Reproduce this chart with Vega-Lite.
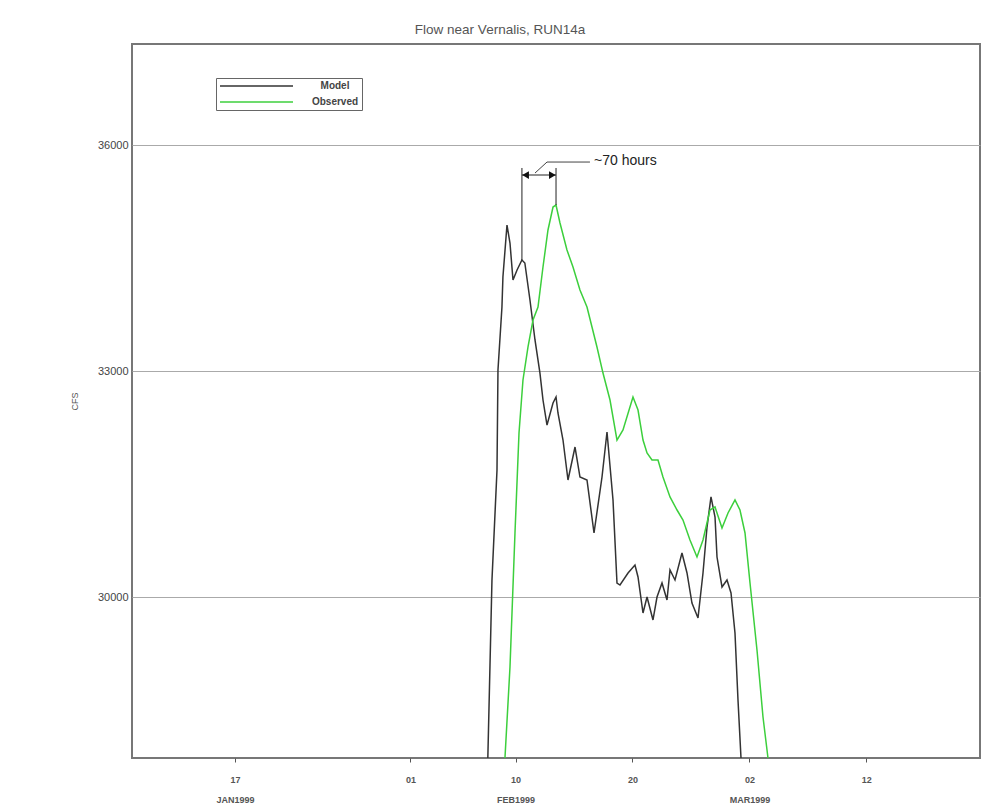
{
  "$schema": "https://vega.github.io/schema/vega-lite/v6.json",
  "width": 848,
  "height": 714,
  "autosize": {"type": "none"},
  "padding": {"left": 132, "top": 44, "right": 22, "bottom": 51},
  "background": "white",
  "title": {
    "text": "Flow near Vernalis, RUN14a",
    "font": "Liberation Sans",
    "fontSize": 13.5,
    "fontWeight": "normal",
    "color": "#555",
    "anchor": "middle",
    "dx": -56,
    "offset": 8
  },
  "config": {
    "view": {"stroke": "#777", "strokeWidth": 2},
    "legend": {
      "orient": "none",
      "legendX": 84,
      "legendY": 34,
      "title": null,
      "strokeColor": "#666",
      "fillColor": "white",
      "padding": 3,
      "cornerRadius": 0,
      "symbolType": "M-1,0H17.25",
      "symbolSize": 64,
      "symbolStrokeWidth": 1.5,
      "labelAlign": "center",
      "labelOffset": 106,
      "labelFont": "Liberation Sans",
      "labelFontSize": 10,
      "labelFontWeight": "bold",
      "labelColor": "#444",
      "rowPadding": 6
    }
  },
  "datasets": {
    "flow": [
      {"t": "1999-02-07T15:00", "series": "Model", "cfs": 27863},
      {"t": "1999-02-07T23:30", "series": "Model", "cfs": 30226},
      {"t": "1999-02-08T09:50", "series": "Model", "cfs": 31686},
      {"t": "1999-02-08T11:50", "series": "Model", "cfs": 33013},
      {"t": "1999-02-08T20:00", "series": "Model", "cfs": 33850},
      {"t": "1999-02-08T22:00", "series": "Model", "cfs": 34248},
      {"t": "1999-02-09T06:20", "series": "Model", "cfs": 34938},
      {"t": "1999-02-09T12:30", "series": "Model", "cfs": 34699},
      {"t": "1999-02-09T18:40", "series": "Model", "cfs": 34208},
      {"t": "1999-02-10T03:00", "series": "Model", "cfs": 34341},
      {"t": "1999-02-10T13:00", "series": "Model", "cfs": 34474},
      {"t": "1999-02-10T19:00", "series": "Model", "cfs": 34434},
      {"t": "1999-02-11T05:30", "series": "Model", "cfs": 33943},
      {"t": "1999-02-11T15:50", "series": "Model", "cfs": 33412},
      {"t": "1999-02-12T02:00", "series": "Model", "cfs": 32973},
      {"t": "1999-02-12T08:15", "series": "Model", "cfs": 32615},
      {"t": "1999-02-12T16:30", "series": "Model", "cfs": 32283},
      {"t": "1999-02-13T04:50", "series": "Model", "cfs": 32575},
      {"t": "1999-02-13T11:00", "series": "Model", "cfs": 32655},
      {"t": "1999-02-13T15:00", "series": "Model", "cfs": 32443},
      {"t": "1999-02-14T01:20", "series": "Model", "cfs": 32084},
      {"t": "1999-02-14T11:35", "series": "Model", "cfs": 31553},
      {"t": "1999-02-15T02:00", "series": "Model", "cfs": 31991},
      {"t": "1999-02-15T12:10", "series": "Model", "cfs": 31593},
      {"t": "1999-02-16T02:35", "series": "Model", "cfs": 31553},
      {"t": "1999-02-16T17:00", "series": "Model", "cfs": 30850},
      {"t": "1999-02-17T09:25", "series": "Model", "cfs": 31593},
      {"t": "1999-02-17T19:40", "series": "Model", "cfs": 32190},
      {"t": "1999-02-18T08:00", "series": "Model", "cfs": 31288},
      {"t": "1999-02-18T16:10", "series": "Model", "cfs": 30186},
      {"t": "1999-02-18T22:20", "series": "Model", "cfs": 30159},
      {"t": "1999-02-19T14:50", "series": "Model", "cfs": 30319},
      {"t": "1999-02-20T05:05", "series": "Model", "cfs": 30425},
      {"t": "1999-02-20T11:20", "series": "Model", "cfs": 30266},
      {"t": "1999-02-20T21:35", "series": "Model", "cfs": 29788},
      {"t": "1999-02-21T05:50", "series": "Model", "cfs": 30000},
      {"t": "1999-02-21T18:05", "series": "Model", "cfs": 29695},
      {"t": "1999-02-22T02:20", "series": "Model", "cfs": 30000},
      {"t": "1999-02-22T12:35", "series": "Model", "cfs": 30186},
      {"t": "1999-02-22T22:50", "series": "Model", "cfs": 29960},
      {"t": "1999-02-23T05:00", "series": "Model", "cfs": 30359},
      {"t": "1999-02-23T15:15", "series": "Model", "cfs": 30226},
      {"t": "1999-02-24T05:35", "series": "Model", "cfs": 30584},
      {"t": "1999-02-24T15:55", "series": "Model", "cfs": 30319},
      {"t": "1999-02-25T02:05", "series": "Model", "cfs": 29920},
      {"t": "1999-02-25T14:30", "series": "Model", "cfs": 29722},
      {"t": "1999-02-26T00:45", "series": "Model", "cfs": 30319},
      {"t": "1999-02-26T09:00", "series": "Model", "cfs": 30929},
      {"t": "1999-02-26T17:10", "series": "Model", "cfs": 31328},
      {"t": "1999-02-27T01:25", "series": "Model", "cfs": 31062},
      {"t": "1999-02-27T05:30", "series": "Model", "cfs": 30531},
      {"t": "1999-02-27T15:45", "series": "Model", "cfs": 30133},
      {"t": "1999-02-28T02:00", "series": "Model", "cfs": 30226},
      {"t": "1999-02-28T10:15", "series": "Model", "cfs": 30053},
      {"t": "1999-02-28T18:25", "series": "Model", "cfs": 29522},
      {"t": "1999-03-01T00:35", "series": "Model", "cfs": 28633},
      {"t": "1999-03-01T06:45", "series": "Model", "cfs": 27863},
      {"t": "1999-02-09T02:10", "series": "Observed", "cfs": 27863},
      {"t": "1999-02-09T12:30", "series": "Observed", "cfs": 29071},
      {"t": "1999-02-09T22:45", "series": "Observed", "cfs": 30850},
      {"t": "1999-02-10T07:00", "series": "Observed", "cfs": 32177},
      {"t": "1999-02-10T15:10", "series": "Observed", "cfs": 32881},
      {"t": "1999-02-11T01:30", "series": "Observed", "cfs": 33319},
      {"t": "1999-02-11T11:45", "series": "Observed", "cfs": 33677},
      {"t": "1999-02-11T22:00", "series": "Observed", "cfs": 33850},
      {"t": "1999-02-12T08:15", "series": "Observed", "cfs": 34381},
      {"t": "1999-02-12T18:30", "series": "Observed", "cfs": 34872},
      {"t": "1999-02-13T04:50", "series": "Observed", "cfs": 35177},
      {"t": "1999-02-13T11:00", "series": "Observed", "cfs": 35204},
      {"t": "1999-02-13T19:10", "series": "Observed", "cfs": 34965},
      {"t": "1999-02-14T09:30", "series": "Observed", "cfs": 34606},
      {"t": "1999-02-14T21:50", "series": "Observed", "cfs": 34381},
      {"t": "1999-02-15T12:10", "series": "Observed", "cfs": 34075},
      {"t": "1999-02-16T02:35", "series": "Observed", "cfs": 33850},
      {"t": "1999-02-16T12:50", "series": "Observed", "cfs": 33584},
      {"t": "1999-02-16T23:05", "series": "Observed", "cfs": 33319},
      {"t": "1999-02-17T11:25", "series": "Observed", "cfs": 32973},
      {"t": "1999-02-18T01:50", "series": "Observed", "cfs": 32615},
      {"t": "1999-02-18T16:10", "series": "Observed", "cfs": 32084},
      {"t": "1999-02-19T04:30", "series": "Observed", "cfs": 32217},
      {"t": "1999-02-20T01:00", "series": "Observed", "cfs": 32655},
      {"t": "1999-02-20T11:20", "series": "Observed", "cfs": 32482},
      {"t": "1999-02-20T21:35", "series": "Observed", "cfs": 32084},
      {"t": "1999-02-21T05:50", "series": "Observed", "cfs": 31912},
      {"t": "1999-02-21T16:00", "series": "Observed", "cfs": 31819},
      {"t": "1999-02-22T04:20", "series": "Observed", "cfs": 31819},
      {"t": "1999-02-22T14:35", "series": "Observed", "cfs": 31593},
      {"t": "1999-02-23T05:00", "series": "Observed", "cfs": 31328},
      {"t": "1999-02-23T19:25", "series": "Observed", "cfs": 31155},
      {"t": "1999-02-24T07:40", "series": "Observed", "cfs": 31022},
      {"t": "1999-02-24T22:00", "series": "Observed", "cfs": 30757},
      {"t": "1999-02-25T12:25", "series": "Observed", "cfs": 30531},
      {"t": "1999-02-26T00:45", "series": "Observed", "cfs": 30757},
      {"t": "1999-02-26T15:05", "series": "Observed", "cfs": 31155},
      {"t": "1999-02-27T01:25", "series": "Observed", "cfs": 31195},
      {"t": "1999-02-27T15:45", "series": "Observed", "cfs": 30916},
      {"t": "1999-02-28T04:05", "series": "Observed", "cfs": 31115},
      {"t": "1999-02-28T18:25", "series": "Observed", "cfs": 31288},
      {"t": "1999-03-01T04:40", "series": "Observed", "cfs": 31155},
      {"t": "1999-03-01T15:00", "series": "Observed", "cfs": 30850},
      {"t": "1999-03-02T01:15", "series": "Observed", "cfs": 30186},
      {"t": "1999-03-02T15:35", "series": "Observed", "cfs": 29297},
      {"t": "1999-03-03T03:55", "series": "Observed", "cfs": 28407},
      {"t": "1999-03-03T14:10", "series": "Observed", "cfs": 27863}
    ],
    "marks_v": [
      {"t": "1999-02-10T13:00", "cfs": 34474, "cfs2": 35695},
      {"t": "1999-02-13T11:00", "cfs": 35204, "cfs2": 35695}
    ],
    "span": [
      {"t": "1999-02-10T13:00", "t2": "1999-02-13T11:00", "cfs": 35602}
    ],
    "heads": [
      {"t": "1999-02-10T20:30", "cfs": 35602, "side": "start"},
      {"t": "1999-02-13T03:30", "cfs": 35602, "side": "end"}
    ],
    "leader": [
      {"t": "1999-02-11T15:50", "cfs": 35628, "o": 1},
      {"t": "1999-02-12T16:30", "cfs": 35774, "o": 2},
      {"t": "1999-02-16T08:40", "cfs": 35774, "o": 3}
    ],
    "note": [
      {"t": "1999-02-16T17:00", "cfs": 35787, "label": "~70 hours"}
    ]
  },
  "encoding": {
    "x": {
      "field": "t",
      "type": "temporal",
      "scale": {
        "domain": [
          {"year": 1999, "month": 1, "date": 8, "hours": 4, "minutes": 30},
          {"year": 1999, "month": 3, "date": 21, "hours": 17, "minutes": 25}
        ]
      },
      "axis": {
        "title": null,
        "grid": false,
        "domain": false,
        "values": [
          {"year": 1999, "month": 1, "date": 17},
          {"year": 1999, "month": 2, "date": 1},
          {"year": 1999, "month": 2, "date": 10},
          {"year": 1999, "month": 2, "date": 20},
          {"year": 1999, "month": 3, "date": 2},
          {"year": 1999, "month": 3, "date": 12}
        ],
        "labelExpr": "indexof([17, 10, 2], date(datum.value)) >= 0 ? [timeFormat(datum.value, '%d'), upper(timeFormat(datum.value, '%b%Y'))] : timeFormat(datum.value, '%d')",
        "tickSize": 4,
        "tickColor": "#555",
        "labelFont": "Liberation Sans",
        "labelFontSize": 9,
        "labelFontWeight": "bold",
        "labelColor": "#555",
        "labelPadding": 13,
        "labelLineHeight": 20,
        "labelBaseline": "top"
      }
    },
    "y": {
      "field": "cfs",
      "type": "quantitative",
      "scale": {"domain": [27863, 37341], "nice": false, "zero": false},
      "axis": {
        "title": "CFS",
        "values": [30000, 33000, 36000],
        "format": "d",
        "grid": true,
        "gridColor": "#aaa",
        "gridWidth": 1,
        "domain": false,
        "tickSize": 0,
        "labelPadding": 4,
        "labelFont": "Liberation Sans",
        "labelFontSize": 11,
        "labelFontWeight": "normal",
        "labelColor": "#444",
        "titleFont": "Liberation Sans",
        "titleFontSize": 9,
        "titleFontWeight": "normal",
        "titleColor": "#555",
        "titlePadding": 18
      }
    }
  },
  "layer": [
    {
      "data": {"name": "flow"},
      "mark": {"type": "line", "clip": true, "strokeWidth": 1.5},
      "encoding": {
        "color": {
          "field": "series",
          "type": "nominal",
          "scale": {"domain": ["Model", "Observed"], "range": ["#333333", "#3ccf3c"]}
        }
      }
    },
    {
      "data": {"name": "marks_v"},
      "mark": {"type": "rule", "color": "#222", "strokeWidth": 1},
      "encoding": {"y2": {"field": "cfs2"}}
    },
    {
      "data": {"name": "span"},
      "mark": {"type": "rule", "color": "#222", "strokeWidth": 1},
      "encoding": {"x2": {"field": "t2"}}
    },
    {
      "data": {"name": "heads"},
      "mark": {"type": "point", "filled": true, "color": "#111", "size": 60, "opacity": 1},
      "encoding": {
        "shape": {
          "field": "side",
          "type": "nominal",
          "scale": {"domain": ["start", "end"], "range": ["triangle-left", "triangle-right"]},
          "legend": null
        }
      }
    },
    {
      "data": {"name": "leader"},
      "mark": {"type": "line", "color": "#444", "strokeWidth": 1},
      "encoding": {"order": {"field": "o", "type": "quantitative"}}
    },
    {
      "data": {"name": "note"},
      "mark": {
        "type": "text",
        "align": "left",
        "baseline": "middle",
        "font": "Liberation Sans",
        "fontSize": 14,
        "color": "#222"
      },
      "encoding": {"text": {"field": "label"}}
    }
  ]
}
